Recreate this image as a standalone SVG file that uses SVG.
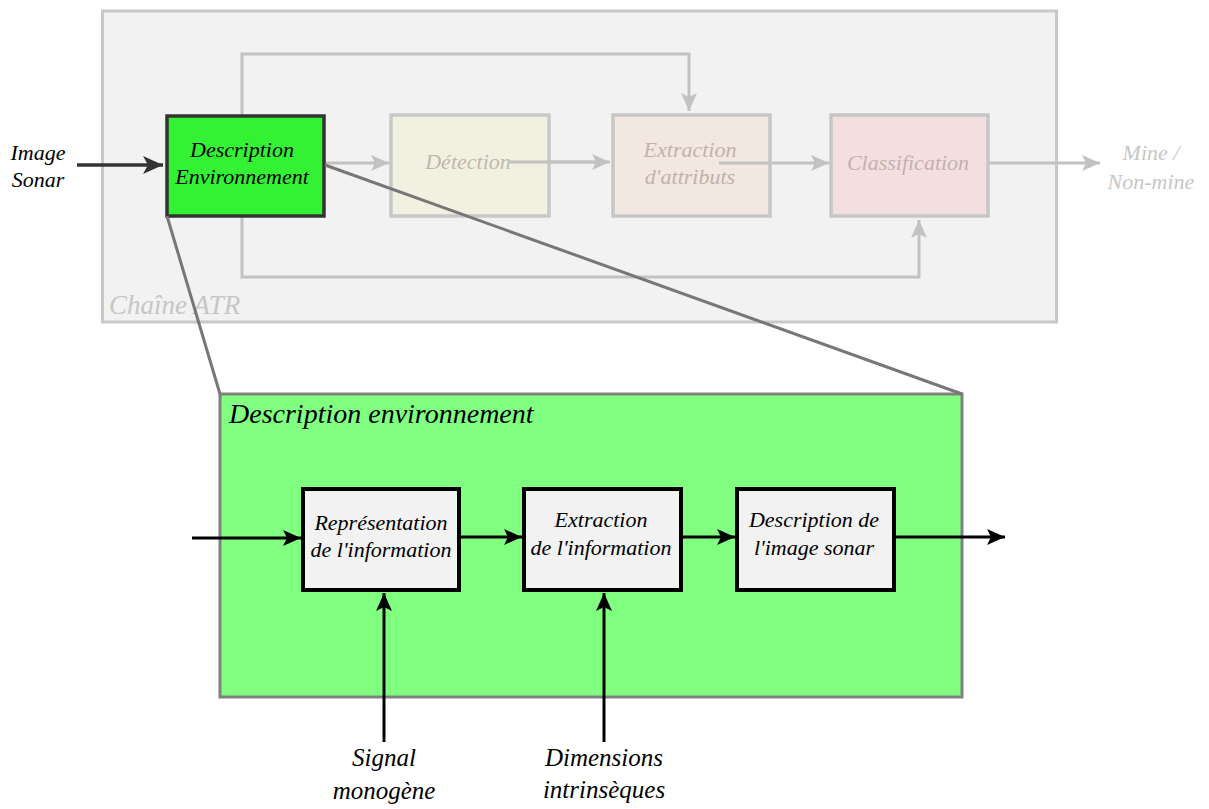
<svg xmlns="http://www.w3.org/2000/svg" width="1209" height="809" viewBox="0 0 1209 809">
<defs>
<style>
text{font-family:"Liberation Serif","Times New Roman",serif;font-style:italic;text-anchor:middle}
.faded{stroke:#c6c6c6;stroke-width:3.5}
.ftxt{font-size:22px}
.gline{fill:none;stroke:#c2c2c2;stroke-width:3}
.bline{fill:none;stroke:#000;stroke-width:3}
.inner{fill:#f2f2f2;stroke:#000;stroke-width:4}
.itxt{font-size:22px;fill:#000}
.zoom{stroke:#777;stroke-width:3;fill:none}
</style>
<marker id="ag" markerUnits="userSpaceOnUse" markerWidth="20" markerHeight="16" refX="18" refY="8" orient="auto">
<path d="M0,0 L18,8 L0,16 L4,8 Z" fill="#c2c2c2"/>
</marker>
<marker id="ab" markerUnits="userSpaceOnUse" markerWidth="20" markerHeight="16" refX="18" refY="8" orient="auto">
<path d="M0,0 L18,8 L0,16 L4,8 Z" fill="#000"/>
</marker>
<marker id="ad" markerUnits="userSpaceOnUse" markerWidth="22" markerHeight="18" refX="20" refY="9" orient="auto">
<path d="M0,0 L20,9 L0,18 L5,9 Z" fill="#333"/>
</marker>
</defs>
<rect width="1209" height="809" fill="#fff"/>

<g id="chaine-atr">
<rect x="102.5" y="11" width="954" height="311" fill="#f2f2f2" stroke="#c8c8c8" stroke-width="3"/>
<text x="109" y="314" style="font-size:27px;fill:#c6c6c6;text-anchor:start">Chaîne ATR</text>
</g>

<g id="connectors-atr">
<polyline class="gline" points="242,115 242,54 689,54 689,111" marker-end="url(#ag)"/>
<polyline class="gline" points="242,216 242,277 919,277 919,220" marker-end="url(#ag)"/>
<line class="gline" x1="325" y1="163" x2="389" y2="163" marker-end="url(#ag)"/>
<line class="gline" x1="508" y1="162" x2="610" y2="162" marker-end="url(#ag)"/>
<line class="gline" x1="719" y1="163" x2="829" y2="163" marker-end="url(#ag)"/>
<line class="gline" x1="988" y1="163" x2="1100" y2="163" marker-end="url(#ag)"/>
</g>

<g id="detection" opacity="0.95">
<rect x="391" y="115" width="158" height="101" fill="#f3efdc" class="faded" fill-opacity="0.8"/>
<text x="468" y="169" class="ftxt" fill="#bcb6a8">Détection</text>
</g>
<g id="extraction-attributs">
<rect x="613" y="115" width="157" height="101" fill="#f2e4dc" class="faded" fill-opacity="0.8"/>
<text x="690" y="157" class="ftxt" fill="#c0b2aa">Extraction</text>
<text x="690" y="184" class="ftxt" fill="#c0b2aa">d'attributs</text>
</g>
<g id="classification">
<rect x="831" y="115" width="157" height="101" fill="#f2dada" class="faded" fill-opacity="0.8"/>
<text x="908" y="170" class="ftxt" fill="#c4b0b0">Classification</text>
</g>
<line class="gline" x1="508" y1="162" x2="600" y2="162"/>
<line class="gline" x1="719" y1="163" x2="770" y2="163"/>

<g id="mine-output">
<text x="1151" y="160" class="ftxt" fill="#c6c6c6">Mine /</text>
<text x="1151" y="189" class="ftxt" fill="#c6c6c6">Non-mine</text>
</g>

<g id="image-sonar">
<text x="38" y="160" class="itxt">Image</text>
<text x="38" y="187" class="itxt">Sonar</text>
</g>

<g id="description-env-small">
<rect x="167" y="116" width="157" height="100" fill="#33f233" stroke="#333" stroke-width="3.5"/>
<text x="242" y="157" class="itxt" fill="#222">Description</text>
<text x="242" y="184" class="itxt" fill="#222">Environnement</text>
</g>

<g id="description-env-large">
<rect x="220" y="394" width="742" height="303" fill="#80ff80" stroke="#808080" stroke-width="3"/>
<text x="229" y="423" style="font-size:28px;fill:#000;text-anchor:start">Description environnement</text>
</g>

<g id="representation">
<rect class="inner" x="303" y="489" width="156" height="101"/>
<text x="381" y="530" class="itxt">Représentation</text>
<text x="381" y="557" class="itxt">de l'information</text>
</g>
<g id="extraction-info">
<rect class="inner" x="524" y="489" width="157" height="101"/>
<text x="601" y="527" class="itxt">Extraction</text>
<text x="601" y="555" class="itxt">de l'information</text>
</g>
<g id="description-image">
<rect class="inner" x="737" y="489" width="157" height="101"/>
<text x="814" y="527" class="itxt">Description de</text>
<text x="814" y="555" class="itxt">l'image sonar</text>
</g>

<g id="signal">
<text x="384" y="766" style="font-size:25px">Signal</text>
<text x="384" y="799" style="font-size:25px">monogène</text>
</g>
<g id="dimensions">
<text x="604" y="766" style="font-size:25px">Dimensions</text>
<text x="604" y="798" style="font-size:25px">intrinsèques</text>
</g>

<g id="connectors">
<line x1="77" y1="165" x2="163" y2="165" stroke="#333" stroke-width="3.5" marker-end="url(#ad)"/>
<line class="zoom" x1="167" y1="216" x2="220" y2="394"/>
<line class="zoom" x1="325" y1="165" x2="962" y2="394"/>
<line class="bline" x1="192" y1="538" x2="301" y2="538" marker-end="url(#ab)"/>
<line class="bline" x1="459" y1="537" x2="522" y2="537" marker-end="url(#ab)"/>
<line class="bline" x1="681" y1="537" x2="735" y2="537" marker-end="url(#ab)"/>
<line class="bline" x1="894" y1="537" x2="1005" y2="537" marker-end="url(#ab)"/>
<line class="bline" x1="384" y1="742" x2="384" y2="593" marker-end="url(#ab)"/>
<line class="bline" x1="604" y1="742" x2="604" y2="593" marker-end="url(#ab)"/>
</g>
</svg>
